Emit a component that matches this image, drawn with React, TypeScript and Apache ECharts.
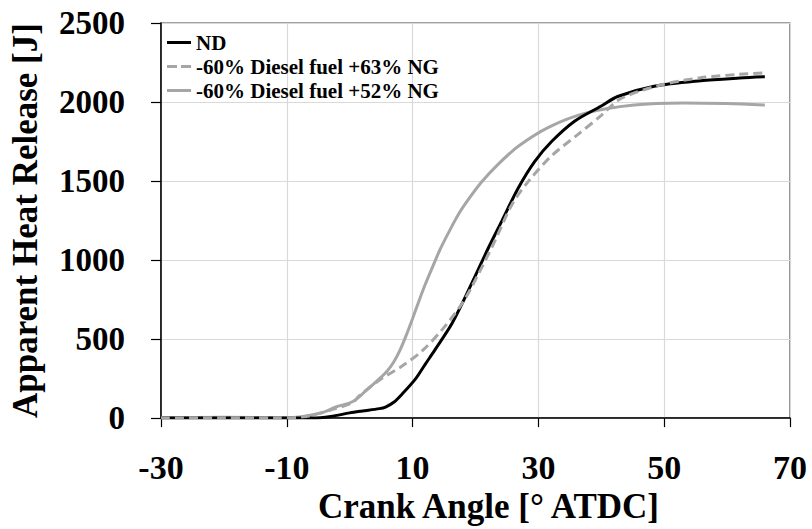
import React, { useEffect, useRef } from "react";
import * as echarts from "echarts";

const seriesNames = ["ND", "-60% Diesel fuel +63% NG", "-60% Diesel fuel +52% NG"];

const ndX = [-30, -20, -10, -6, -3, 0, 2, 4.7, 5.7, 7, 8.4, 10.5, 12, 13.6, 16.3, 19.4, 22.1, 24.2, 26.8, 29.4, 32.1, 35.8, 40, 42.6, 48.4, 55.8, 62, 66];
const ndY = [0, 0, 0, 0, 10, 33, 45, 60, 70, 100, 155, 250, 340, 435, 602, 852, 1081, 1248, 1456, 1623, 1750, 1880, 1975, 2035, 2100, 2135, 2152, 2160];

const ng63X = [-30, -20, -12, -7.4, -2.7, 0.5, 1.5, 4.7, 8.4, 11.5, 14.7, 17.9, 20.5, 23.1, 25.8, 28.4, 32.1, 36.3, 40, 43, 48.9, 55.8, 62, 66];
const ng63Y = [0, 3, 2, 8, 55, 100, 140, 240, 331, 425, 560, 727, 914, 1123, 1352, 1498, 1660, 1795, 1915, 2019, 2102, 2154, 2175, 2185];

const ng52X = [-30, -20, -10, -4.8, -2.2, 0.5, 2.5, 4.7, 6, 7, 8, 9, 10, 11, 12, 13, 14.4, 15.8, 17.3, 18.9, 21.0, 23.7, 26.8, 31.6, 37.5, 45.2, 53.1, 60, 66];
const ng52Y = [2, 5, 3, 30, 70, 105, 170, 248, 300, 355, 430, 525, 630, 740, 845, 940, 1070, 1180, 1290, 1385, 1495, 1610, 1720, 1840, 1930, 1981, 1994, 1990, 1981];

const xTitle = "Crank Angle [° ATDC]";
const yTitle = "Apparent Heat Release [J]";

const FONT = "'Liberation Serif', 'Times New Roman', serif";

const ICON_SOLID = "path://M0,0H24V3H0Z";
const ICON_DASHED = "path://M0,0H10V3H0ZM14,0H24V3H14Z";

function pairs(xs: number[], ys: number[]) {
  return xs.map((x, i) => [x, ys[i]]);
}

export default function App() {
  const ref = useRef<HTMLDivElement>(null);
  useEffect(() => {
    document.body.style.margin = "0";
    if (!ref.current) return;
    const chart = echarts.init(ref.current, undefined, { renderer: "svg" });
    chart.setOption({
      animation: false,
      backgroundColor: "#fff",
      grid: {
        left: 157,
        top: 23,
        right: 22,
        bottom: 106,
        show: true,
        borderColor: "#444",
        borderWidth: 1.2,
      },
      legend: {
        orient: "vertical",
        left: 162,
        top: 27,
        itemWidth: 24,
        itemHeight: 3,
        itemGap: 3,
        textStyle: { fontFamily: FONT, fontWeight: "bold", fontSize: 21, color: "#000" },
        data: [
          { name: seriesNames[0], icon: ICON_SOLID },
          { name: seriesNames[1], icon: ICON_DASHED },
          { name: seriesNames[2], icon: ICON_SOLID },
        ],
      },
      xAxis: {
        type: "value",
        min: -30,
        max: 70,
        interval: 20,
        name: xTitle,
        nameLocation: "middle",
        nameGap: 66,
        nameTextStyle: { fontFamily: FONT, fontWeight: "bold", fontSize: 35, color: "#000", padding: [0, 0, 0, 26] },
        axisLine: { onZero: false, lineStyle: { color: "#000", width: 1.5 } },
        axisTick: { show: true, inside: false, length: 9, lineStyle: { color: "#000", width: 1.2 } },
        axisLabel: { fontFamily: FONT, fontWeight: "bold", fontSize: 34, color: "#000", margin: 32 },
        splitLine: { show: true, lineStyle: { color: "#d9d9d9", width: 1.2 } },
      },
      yAxis: {
        type: "value",
        min: 0,
        max: 2500,
        interval: 500,
        name: yTitle,
        nameLocation: "middle",
        nameGap: 118,
        nameTextStyle: { fontFamily: FONT, fontWeight: "bold", fontSize: 35, color: "#000" },
        axisLine: { show: true, onZero: false, lineStyle: { color: "#000", width: 1.5 } },
        axisTick: { show: true, inside: false, length: 10, lineStyle: { color: "#000", width: 1.2 } },
        axisLabel: {
          fontFamily: FONT,
          fontWeight: "bold",
          fontSize: 33,
          color: "#000",
          margin: 36,
          formatter: (v: number) => String(v),
        },
        splitLine: { show: true, lineStyle: { color: "#d9d9d9", width: 1.2 } },
      },
      series: [
        {
          name: seriesNames[0],
          type: "line",
          data: pairs(ndX, ndY),
          symbol: "none",
          smooth: 0.3,
          z: 3,
          lineStyle: { color: "#000", width: 3 },
          itemStyle: { color: "#000" },
        },
        {
          name: seriesNames[1],
          type: "line",
          data: pairs(ng63X, ng63Y),
          symbol: "none",
          smooth: 0.3,
          z: 4,
          lineStyle: { color: "#a6a6a6", width: 3, type: [9, 5] },
          itemStyle: { color: "#a6a6a6" },
        },
        {
          name: seriesNames[2],
          type: "line",
          data: pairs(ng52X, ng52Y),
          symbol: "none",
          smooth: 0.3,
          z: 2,
          lineStyle: { color: "#a6a6a6", width: 3 },
          itemStyle: { color: "#a6a6a6" },
        },
      ],
    });
    return () => chart.dispose();
  }, []);
  return <div ref={ref} style={{ width: 812, height: 529 }} />;
}
